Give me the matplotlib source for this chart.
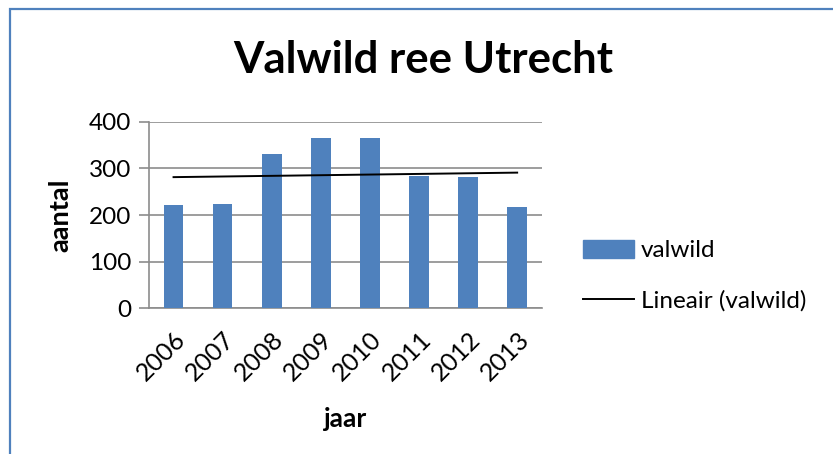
import numpy as np
import matplotlib
matplotlib.use('Agg')
import matplotlib.pyplot as plt
from matplotlib.patches import Rectangle
from matplotlib.lines import Line2D

years = ['2006', '2007', '2008', '2009', '2010', '2011', '2012', '2013']
valwild = [222, 224, 331, 364, 364, 284, 281, 218]

plt.rcParams['font.family'] = ['Lato', 'DejaVu Sans']

W, H = 833, 454
fig = plt.figure(figsize=(W / 100, H / 100), dpi=100)
fig.patch.set_facecolor('white')

# chart border (only left and top are visible in the crop)
fig.patches.append(Rectangle((10 / W, -0.1), 2, 1.1 - 9 / H, transform=fig.transFigure,
                             fill=False, edgecolor='#4F81BD', linewidth=1.6))

ax = fig.add_axes([149 / W, (H - 308.3) / H, (541.7 - 149) / W, (308.3 - 121.7) / H])
x = np.arange(len(years))
ax.bar(x, valwild, width=0.4, color='#4F81BD', zorder=3, label='valwild')

# linear trendline
k, b = np.polyfit(x, valwild, 1)
ax.plot(x, k * x + b, color='black', linewidth=1.4, zorder=4, label='Lineair (valwild)')

ax.set_xlim(-0.5, len(years) - 0.5)
ax.set_ylim(0, 400)
ax.set_yticks([0, 100, 200, 300, 400])
ax.grid(axis='y', color='#8C8C8C', linewidth=1.2, zorder=0)
ax.set_axisbelow(True)
for s in ['top', 'right']:
    ax.spines[s].set_visible(False)
ax.spines['left'].set_color('#8C8C8C')
ax.spines['bottom'].set_color('#8C8C8C')
ax.spines['left'].set_linewidth(1.2)
ax.spines['bottom'].set_linewidth(1.2)
ax.tick_params(axis='y', length=7, width=1.2, color='#8C8C8C', labelsize=17.5, pad=6)
ax.tick_params(axis='x', length=0, labelsize=18, pad=14)
ax.set_xticks(x)
ax.set_xticklabels(years, rotation=45, ha='right', va='top', rotation_mode='anchor')

ax.set_ylabel('aantal', fontsize=19.5, fontweight='bold', labelpad=12)
ax.set_xlabel('jaar', fontsize=19, fontweight='bold', labelpad=16)

fig.text(423 / W, 1 - 60 / H, 'Valwild ree Utrecht', ha='center', va='center',
         fontsize=31.5, fontweight='bold')

handles = [Rectangle((0, 0), 1, 1, color='#4F81BD'),
           Line2D([0], [0], color='black', linewidth=1.4)]
fig.legend(handles, ['valwild', 'Lineair (valwild)'], loc='center left',
           bbox_to_anchor=(561 / W, 1 - 276 / H), frameon=False, fontsize=17.5,
           handlelength=2.1, handleheight=0.75, handletextpad=0.3, labelspacing=1.2)

fig.savefig('out.png', dpi=100)
